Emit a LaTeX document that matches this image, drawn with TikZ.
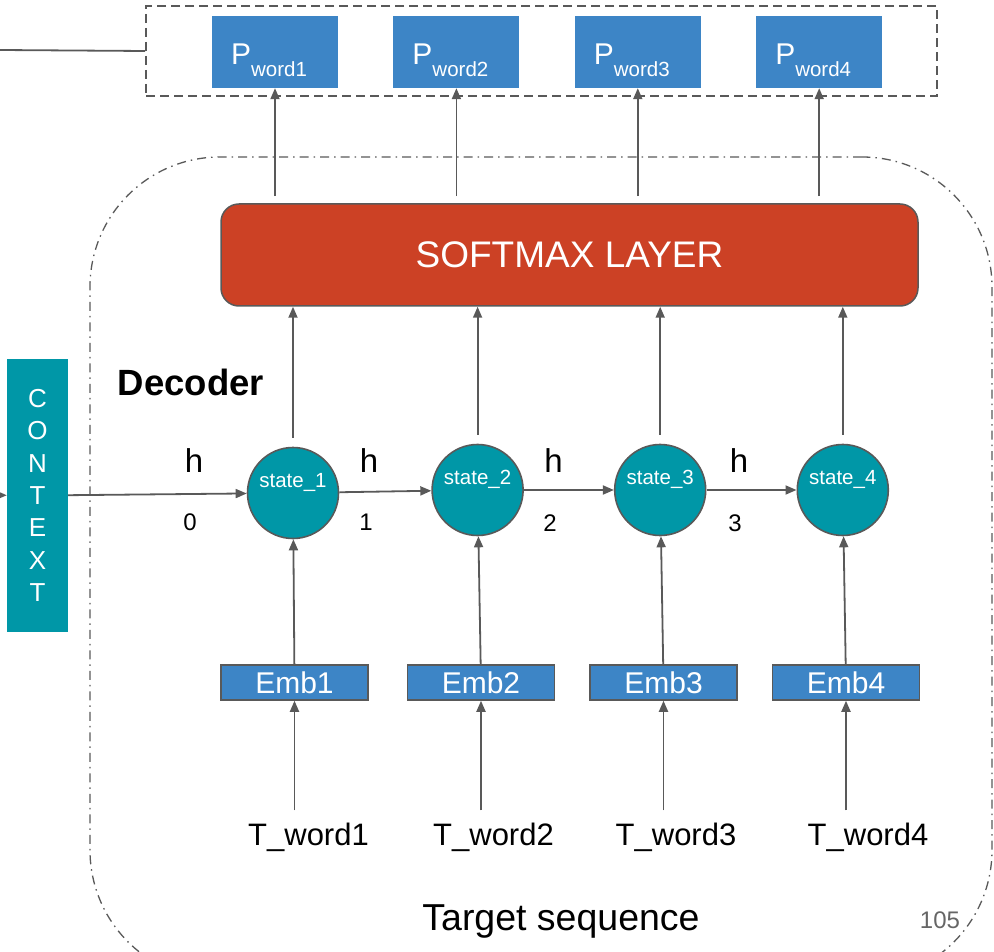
\documentclass[tikz,border=0pt]{standalone}
\usepackage{fontspec}
\setmainfont{Liberation Sans}
\usetikzlibrary{arrows.meta,positioning}
\definecolor{boxblue}{HTML}{3D85C6}
\definecolor{cellteal}{HTML}{0097A7}
\definecolor{layerred}{HTML}{CC4125}
\definecolor{wire}{HTML}{595959}
\definecolor{muted}{HTML}{666666}
\newcommand{\fsz}[1]{\fontsize{#1}{#1}\selectfont}
\newcommand{\pword}[1]{P\lower12pt\hbox{\fsz{20.5}word#1}\kern12pt}
\newcommand{\celltext}[1]{\raisebox{5.5pt}[0pt][0pt]{#1}}

\begin{document}
\begin{tikzpicture}[
    x=1pt, y=-1pt,
    prob/.style={fill=boxblue, text=white, minimum width=126pt, minimum height=72pt, inner sep=0pt, text height=38pt, text depth=12pt, font=\fsz{30}},
    layer/.style={draw=wire, line width=1.5pt, rounded corners=18pt, fill=layerred, text=white, minimum width=697pt, minimum height=102pt, font=\fsz{37}},
    cell/.style={circle, draw=wire, line width=1.6pt, fill=cellteal, text=white, minimum size=91pt, inner sep=0pt, font=\fsz{20.5}},
    emb/.style={draw=wire, line width=1.5pt, fill=boxblue, text=white, minimum width=147pt, minimum height=35pt, inner sep=0pt, font=\fsz{30}},
    ctx/.style={fill=cellteal, text=white, minimum width=61pt, minimum height=273pt, inner sep=0pt, align=center, font=\fontsize{26}{32.3}\selectfont},
    word/.style={anchor=base, inner sep=0pt, font=\fsz{31}},
    hname/.style={inner sep=0pt, font=\fsz{33}},
    hidx/.style={inner sep=0pt, font=\fsz{24}},
    title/.style={inner sep=0pt, font=\fsz{36.5}\bfseries},
    caption/.style={anchor=base, inner sep=0pt, font=\fsz{37.5}},
    pageno/.style={anchor=base, inner sep=0pt, text=muted, font=\fsz{24}},
    outframe/.style={draw=wire, line width=1.8pt, dash pattern=on 9pt off 5pt, minimum width=791pt, minimum height=90pt},
    decframe/.style={draw=wire, line width=1.3pt, dash pattern=on 9pt off 5pt on 1.5pt off 5pt, rounded corners=130pt, minimum width=902pt, minimum height=823pt},
    link/.style={-{Triangle[length=11pt,width=9pt]}, line width=1.8pt, color=wire},
    plain/.style={line width=1.8pt, color=wire}
]
    \useasboundingbox (0,0) rectangle (994,952);
    \clip (0,0) rectangle (994,952);

    % frames
    \node[decframe] (decbox) at (541,568.5) {};
    \node[outframe] (outbox) at (541.5,51) {};

    % output probabilities
    \node[prob] (pw1) at (275,52) {\pword{1}};
    \node[prob, right=55pt of pw1] (pw2) {\pword{2}};
    \node[prob, right=55pt of pw2] (pw3) {\pword{3}};
    \node[prob, right=55pt of pw3] (pw4) {\pword{4}};

    \node[layer] (softmax) at (569.5,255) {SOFTMAX LAYER};
    \node[title] (decoder) at (191,382) {Decoder};
    \node[ctx] (context) at (37.5,495.5) {C\\O\\N\\T\\E\\X\\T};

    % decoder states
    \node[cell] (st1) at (293,493) {\celltext{state\_1}};
    \node[cell, right=92pt of st1, yshift=3pt] (st2) {\celltext{state\_2}};
    \node[cell, right=90pt of st2] (st3) {\celltext{state\_3}};
    \node[cell, right=90pt of st3] (st4) {\celltext{state\_4}};

    \node[hname] (h0) at (194,461) {h};
    \node[hidx] (h0idx) at (190,522) {0};
    \node[hname] (h1) at (369,461) {h};
    \node[hidx] (h1idx) at (366,522) {1};
    \node[hname] (h2) at (553.5,461) {h};
    \node[hidx] (h2idx) at (550,523) {2};
    \node[hname] (h3) at (739,461) {h};
    \node[hidx] (h3idx) at (735,523) {3};

    % embeddings and target words
    \node[emb] (emb1) at (294.5,682.5) {Emb1};
    \node[emb, right=38pt of emb1] (emb2) {Emb2};
    \node[emb, right=34pt of emb2] (emb3) {Emb3};
    \node[emb, right=34pt of emb3] (emb4) {Emb4};

    \node[word] (tw1) at (308.5,845) {T\_word1};
    \node[word] (tw2) at (493.5,845) {T\_word2};
    \node[word] (tw3) at (676,845) {T\_word3};
    \node[word] (tw4) at (868,845) {T\_word4};

    \node[caption] (target) at (561,930) {Target sequence};
    \node[pageno] (pagenum) at (940,928) {105};

    \coordinate (outfeed) at (0,50);
    \coordinate (ctxfeed) at (-30,495);

    \draw[plain] (outfeed) -- (outbox.west);
    \draw[link] (ctxfeed) -- (context);
    \draw[link] (context) -- (st1);
    \draw[link] (st1) -- (st2);
    \draw[link] (st2) -- (st3);
    \draw[link] (st3) -- (st4);

    \draw[link, shorten <=9pt] (st1.north) -- (st1.north |- softmax.south);
    \draw[link, shorten <=9pt] (st2.north) -- (st2.north |- softmax.south);
    \draw[link, shorten <=9pt] (st3.north) -- (st3.north |- softmax.south);
    \draw[link, shorten <=9pt] (st4.north) -- (st4.north |- softmax.south);

    \draw[link, shorten <=7pt] (softmax.north -| pw1) -- (pw1.south);
    \draw[link, shorten <=7pt] (softmax.north -| pw2) -- (pw2.south);
    \draw[link, shorten <=7pt] (softmax.north -| pw3) -- (pw3.south);
    \draw[link, shorten <=7pt] (softmax.north -| pw4) -- (pw4.south);

    \draw[link] (emb1) -- (st1);
    \draw[link] (emb2) -- (st2);
    \draw[link] (emb3) -- (st3);
    \draw[link] (emb4) -- (st4);

    \draw[link, shorten <=12pt] (tw1.north -| emb1) -- (emb1.south);
    \draw[link, shorten <=12pt] (tw2.north -| emb2) -- (emb2.south);
    \draw[link, shorten <=12pt] (tw3.north -| emb3) -- (emb3.south);
    \draw[link, shorten <=12pt] (tw4.north -| emb4) -- (emb4.south);
\end{tikzpicture}
\end{document}
